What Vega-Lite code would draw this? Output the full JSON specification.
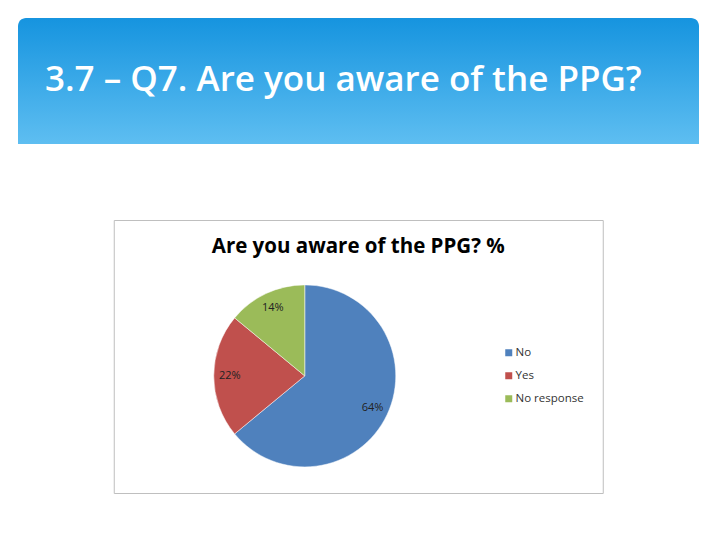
{
  "$schema": "https://vega.github.io/schema/vega-lite/v6.json",
  "background": "white",
  "padding": {"left": 18, "top": 18, "right": 21, "bottom": 48},
  "spacing": 75,
  "center": true,
  "config": {"font": "Open Sans"},
  "datasets": {
    "header": [{"heading": "3.7 – Q7. Are you aware of the PPG?"}],
    "answers": [
      {"answer": "No", "value": 64, "label": "64%", "idx": 1},
      {"answer": "Yes", "value": 22, "label": "22%", "idx": 2},
      {"answer": "No response", "value": 14, "label": "14%", "idx": 3}
    ]
  },
  "vconcat": [
    {
      "width": 681,
      "height": 126,
      "view": {"stroke": null},
      "title": {
        "text": "3.7 – Q7. Are you aware of the PPG?",
        "anchor": "start",
        "frame": "group",
        "orient": "top",
        "offset": -108,
        "dx": 27,
        "baseline": "alphabetic",
        "color": "white",
        "fontSize": 35,
        "fontWeight": 600,
        "font": "Open Sans"
      },
      "data": {"name": "header"},
      "mark": {
        "type": "rect",
        "cornerRadiusTopLeft": 8,
        "cornerRadiusTopRight": 8,
        "fill": {
          "gradient": "linear",
          "x1": 0, "y1": 0, "x2": 0, "y2": 1,
          "stops": [
            {"offset": 0, "color": "#1694DF"},
            {"offset": 1, "color": "#5EBEF1"}
          ]
        }
      },
      "encoding": {}
    },
    {
      "width": 489,
      "height": 273,
      "view": {"stroke": "#BFBFBF", "strokeWidth": 1, "fill": "white"},
      "title": {
        "text": "Are you aware of the PPG? %",
        "anchor": "middle",
        "frame": "group",
        "orient": "top",
        "offset": -53,
        "baseline": "alphabetic",
        "color": "black",
        "fontSize": 20.5,
        "fontWeight": "bold",
        "font": "Open Sans"
      },
      "data": {"name": "answers"},
      "encoding": {
        "theta": {"field": "value", "type": "quantitative", "stack": true},
        "order": {"field": "idx", "type": "quantitative"}
      },
      "layer": [
        {
          "mark": {
            "type": "arc",
            "outerRadius": 91,
            "x": {"expr": "concat_1_width * 0.3906"},
            "y": {"expr": "concat_1_height * 0.571"},
            "stroke": "white",
            "strokeWidth": 0.5
          },
          "encoding": {
            "color": {
              "field": "answer",
              "type": "nominal",
              "scale": {
                "domain": ["No", "Yes", "No response"],
                "range": ["#4F81BD", "#C0504D", "#9BBB59"]
              },
              "legend": {
                "title": null,
                "orient": "none",
                "legendX": 485,
                "legendY": 329,
                "symbolType": "square",
                "symbolSize": 49,
                "symbolStrokeWidth": 0,
                "labelFontSize": 11.5,
                "labelColor": "#333333",
                "labelFont": "Open Sans",
                "rowPadding": 10,
                "labelOffset": 1
              }
            }
          }
        },
        {
          "mark": {
            "type": "text",
            "radius": 75,
            "x": {"expr": "concat_1_width * 0.3906"},
            "y": {"expr": "concat_1_height * 0.571"},
            "fontSize": 11,
            "color": "#222222",
            "font": "Open Sans"
          },
          "encoding": {
            "text": {"field": "label", "type": "nominal"}
          }
        }
      ]
    }
  ]
}
